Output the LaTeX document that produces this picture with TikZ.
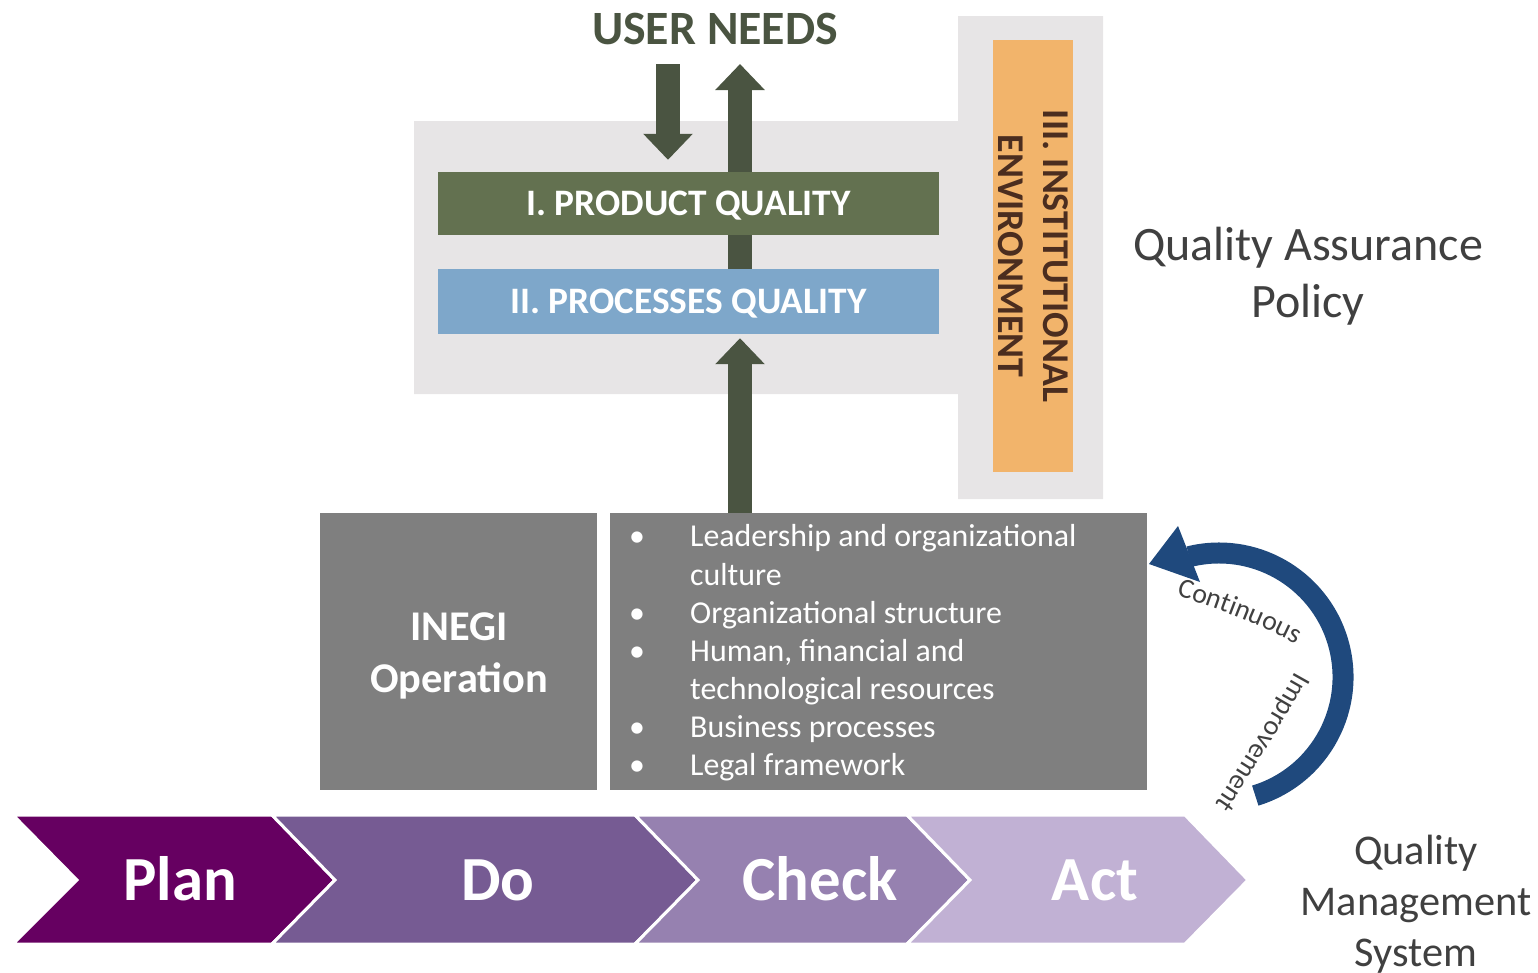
\documentclass[tikz,border=0pt]{standalone}
\usepackage{fontspec}
\setmainfont{Carlito}
\usetikzlibrary{arrows.meta,decorations.text,backgrounds,calc}
\definecolor{lgray}{HTML}{E7E5E6}
\definecolor{olivedk}{HTML}{4A5441}
\definecolor{prodg}{HTML}{637150}
\definecolor{procb}{HTML}{7EA7CA}
\definecolor{orng}{HTML}{F2B46B}
\definecolor{instbrown}{HTML}{4B2D1F}
\definecolor{boxgray}{HTML}{7F7F7F}
\definecolor{arcblue}{HTML}{1F497D}
\definecolor{txtgray}{HTML}{404040}
\definecolor{cPlan}{HTML}{660061}
\definecolor{cDo}{HTML}{765B93}
\definecolor{cCheck}{HTML}{9681B0}
\definecolor{cAct}{HTML}{C1B1D4}
\newcommand\myfs[2]{\fontsize{#1}{#2}\selectfont}
\begin{document}
\begin{tikzpicture}[x=1bp,y=-1bp,
  blk/.style={color=olivedk, line width=24bp, -{Triangle[width=48bp,length=26bp]}},
  qbox/.style={inner sep=0pt, text=white, font=\bfseries\myfs{37.5}{40}, text height=24bp, text depth=0pt, minimum width=501bp},
  graybox/.style={fill=boxgray, inner sep=0pt, minimum height=277bp},
  chev/.style={draw=white, line width=3bp, line join=miter},
  chevtxt/.style={anchor=base, inner sep=0pt, text=white, font=\bfseries\myfs{63}{70}},
  qtxt/.style={inner sep=0pt, text=txtgray, align=center}
]
\useasboundingbox (0,0) rectangle (1538,972);

% titles and boxes
\node[inner sep=0pt, text=olivedk, font=\bfseries\myfs{48}{56}] (needs) at (715,29) {USER NEEDS};
\node[qbox, fill=prodg, minimum height=63bp] (prod) at (688.5,203.5) {I. PRODUCT QUALITY};
\node[qbox, fill=procb, minimum height=65bp] (proc) at (688.5,301.5) {II. PROCESSES QUALITY};
\node[fill=orng, rotate=-90, minimum width=431bp, minimum height=80bp, inner sep=0pt,
      align=center, font=\bfseries\myfs{38}{45}, text=instbrown] (inst) at (1033,256)
      {III. INSTITUTIONAL\\ENVIRONMENT};

\node[graybox, minimum width=277bp] (inegi) at (458.5,651.5) {};
\node[inner sep=0pt, text=white, font=\bfseries\myfs{42.5}{52}, align=center] (inegitxt) at (459,656) {INEGI\\Operation};
\node[graybox, minimum width=537bp] (list) at (878.5,651.5) {};
\node[anchor=north west, inner sep=0pt, text=white, font=\myfs{32}{38.3}] (items) at (629,520)
 {\begin{tabular}{@{}p{61bp}@{}l@{}}
 •&Leadership and organizational\\
  &culture\\
 •&Organizational structure\\
 •&Human, financial and\\
  &technological resources\\
 •&Business processes\\
 •&Legal framework
 \end{tabular}};

\node[qtxt, font=\myfs{48.2}{57}] (qap) at (1308,276) {Quality Assurance\\Policy};
\node[qtxt, font=\myfs{42.5}{51}] (qms) at (1416,904) {Quality\\Management\\System};

% background: L shape and block arrows
\coordinate (ux) at (740,64);
\coordinate (dx) at (668,64);
\begin{scope}[on background layer]
\fill[lgray] (414,121) -- (958,121) -- (958,16) -- (1103,16) -- (1103,499) -- (958,499) -- (958,394) -- (414,394) -- cycle;
\draw[blk] (proc.north -| ux) -- (ux);
\draw[blk] (dx) -- ($(prod.north -| dx)+(0,-12)$);
\draw[blk] (list.north -| ux) -- ($(proc.south -| ux)+(0,4)$);
\end{scope}

% PDCA chevrons
\filldraw[chev, fill=cPlan]  (13,815) -- (272,815) -- (335,880) -- (272,944) -- (13,944) -- (77,880) -- cycle;
\filldraw[chev, fill=cDo]    (272,815) -- (635,815) -- (698,880) -- (635,944) -- (272,944) -- (335,880) -- cycle;
\filldraw[chev, fill=cCheck] (635,815) -- (907,815) -- (970,880) -- (907,944) -- (635,944) -- (698,880) -- cycle;
\filldraw[chev, fill=cAct]   (907,815) -- (1185,815) -- (1248,880) -- (1185,944) -- (907,944) -- (970,880) -- cycle;
\node[chevtxt] (plan) at (180,900) {Plan};
\node[chevtxt] (do) at (498,900) {Do};
\node[chevtxt] (check) at (820,900) {Check};
\node[chevtxt] (act) at (1095,900) {Act};

% continuous improvement arrow
\coordinate (ctr) at (1219,677);
\draw[arcblue, line width=21bp] ([shift={(73:124)}]ctr) arc[start angle=73, end angle=-104, radius=124];
\fill[arcblue] (1178,526) -- (1149,564) -- (1200,582) -- cycle;
\path[decorate, decoration={text along path, text align=center, text color=txtgray,
  text={|\myfs{28}{28}|Continuous}}]
  (1166,593) .. controls (1212,606) and (1260,624) .. (1306,649);
\path[decorate, decoration={text along path, text align=center, text color=txtgray,
  text={|\myfs{28}{28}|Improvement}}]
  (1304,657) .. controls (1281,699) and (1240,770) .. (1205,818);
\end{tikzpicture}
\end{document}
